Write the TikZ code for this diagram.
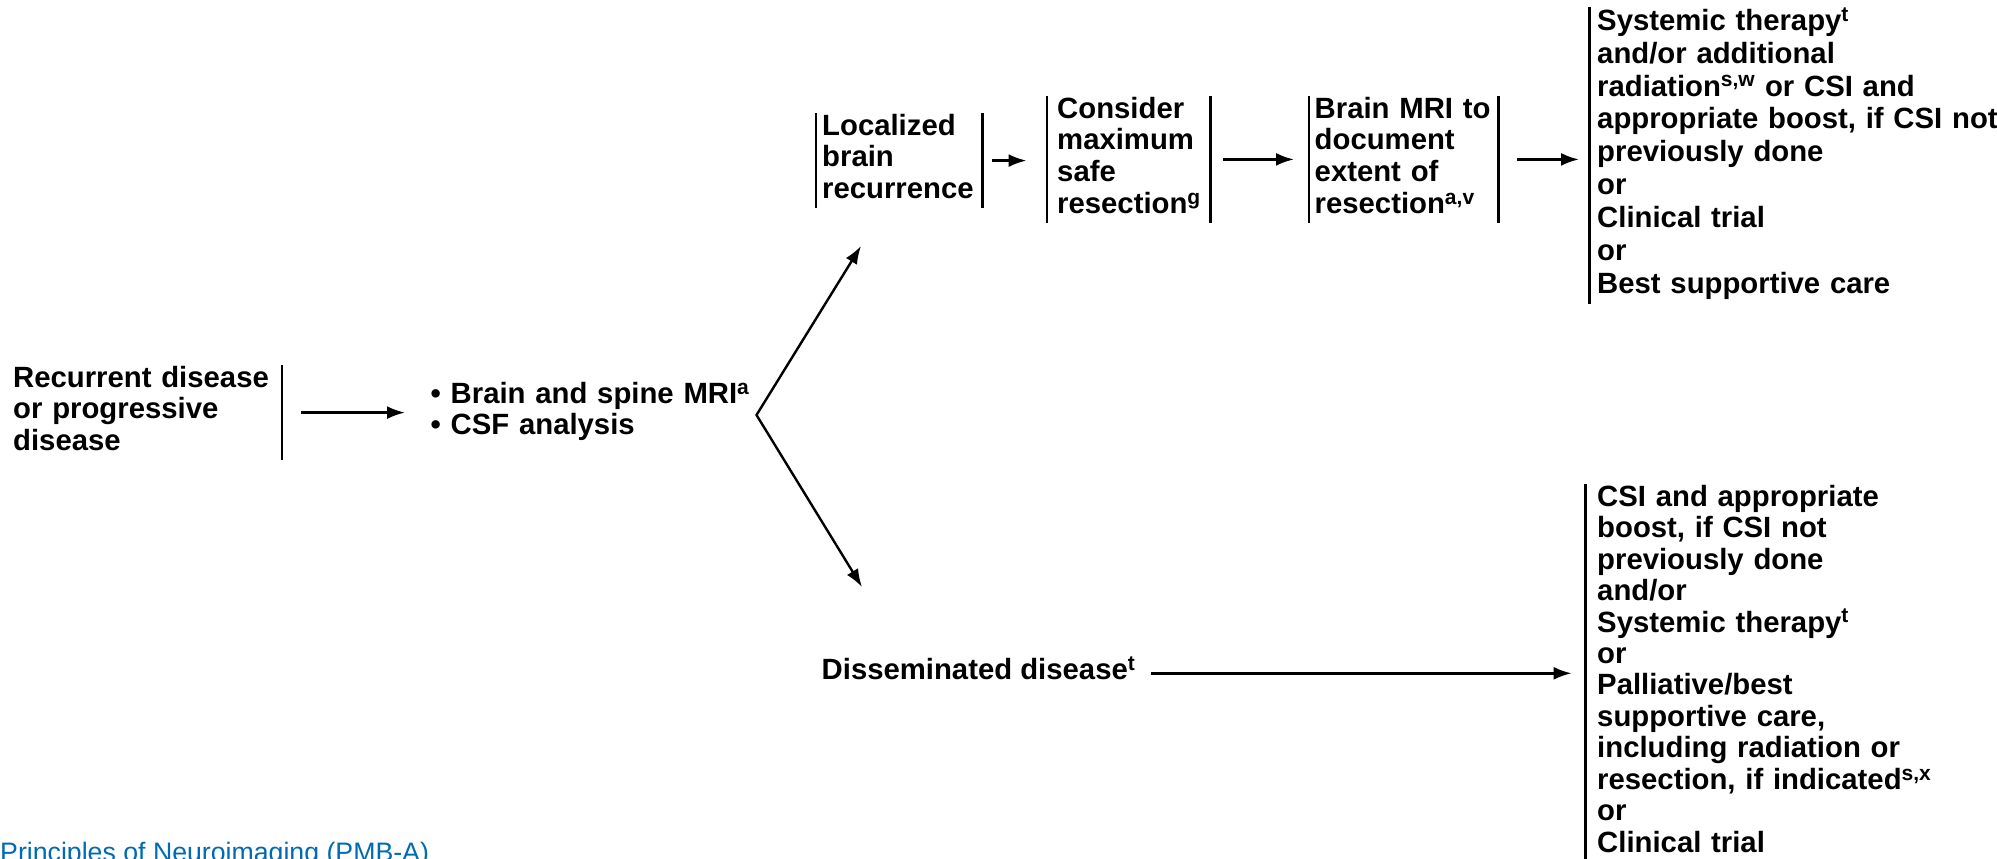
\documentclass[tikz,border=0pt]{standalone}
\usepackage{fontspec}
\setmainfont{Liberation Sans}
\usepackage{xcolor}
\usepackage{tikz}
\usetikzlibrary{arrows.meta}
\definecolor{linkblue}{RGB}{0,107,179}
\newcommand{\fnref}[1]{\textsuperscript{\fontsize{21}{21}\selectfont #1}}

\begin{document}
\begin{tikzpicture}[x=1pt,y=1pt,yscale=-1,xscale=1,
  >={Latex[length=18pt,width=13pt]},
  txt/.style={anchor=north west, inner sep=0pt, align=left,
    font=\bfseries\fontsize{29.3}{31.6}\selectfont,
    execute at begin node=\strut, execute at end node=\strut},
  bar/.style={line width=2.6pt},
  arr/.style={line width=2.4pt, ->}]
\useasboundingbox (0,0) rectangle (1997,859);

% Text Node
\node[txt, text width=268.5pt] (rec) at (13,365) {Recurrent disease\\or progressive\\disease};
\draw[bar] (rec.north east) -- (rec.south east);
% Text Node
\node[txt, text width=380pt] (mri) at (430.5,381) {\textbullet\ Brain and spine MRI\fnref{a}\\\textbullet\ CSF analysis};

% Text Node
\node[txt, inner xsep=6pt, text width=154pt] (loc) at (816,113) {Localized\\brain\\recurrence};
\draw[bar] (loc.north west) -- (loc.south west);
\draw[bar] (loc.north east) -- (loc.south east);
% Text Node
\node[txt, inner xsep=10pt, text width=143pt] (con) at (1047,96) {Consider\\maximum\\safe\\resection\fnref{g}};
\draw[bar] (con.north west) -- (con.south west);
\draw[bar] (con.north east) -- (con.south east);
% Text Node
\node[txt, inner xsep=5.5pt, text width=178pt] (bmri) at (1309,96) {Brain MRI to\\document\\extent of\\resection\fnref{a,v}};
\draw[bar] (bmri.north west) -- (bmri.south west);
\draw[bar] (bmri.north east) -- (bmri.south east);
% Text Node
\node[txt, inner xsep=7.5pt, text width=430pt, font=\bfseries\fontsize{29.3}{32.9}\selectfont] (trt) at (1589.5,7) {Systemic therapy\fnref{t}\\and/or additional\\radiation\fnref{s,w} or CSI and\\appropriate boost, if CSI not\\previously done\\or\\Clinical trial\\or\\Best supportive care};
\draw[bar] (trt.north west) -- (trt.south west);

% Text Node
\node[txt] (dis) at (821.5,657) {Disseminated disease\fnref{t}};
% Text Node
\node[txt, inner xsep=11.4pt, text width=360pt, font=\bfseries\fontsize{29.3}{31.45}\selectfont] (brt) at (1585.6,484) {CSI and appropriate\\boost, if CSI not\\previously done\\and/or\\Systemic therapy\fnref{t}\\or\\Palliative/best\\supportive care,\\including radiation or\\resection, if indicated\fnref{s,x}\\or\\Clinical trial};
\draw[bar] (brt.north west) -- (brt.south west);

%Straight Lines
\draw[arr] ([xshift=19pt]rec.east) -- ([xshift=-25.5pt]rec.east -| mri.west);
\draw[arr] ([xshift=10pt]loc.east) -- ([xshift=-20.5pt]loc.east -| con.west);
\draw[arr] ([xshift=12.6pt]con.east) -- ([xshift=-15pt]con.east -| bmri.west);
\draw[arr] ([xshift=19pt]bmri.east) -- ([xshift=-10.5pt]bmri.east -| trt.west);
\draw[arr] ([xshift=15.5pt]dis.east) -- ([xshift=-14pt]dis.east -| brt.west);

% fork after imaging
\coordinate (fork) at (756.5,415);
\coordinate (uptip) at (861,246);
\coordinate (dntip) at (862,587);
\draw[line width=2.4pt, <->] (uptip) -- (fork) -- (dntip);

% Text Node
\node[anchor=base west, inner sep=0pt, text=linkblue, font=\fontsize{26.7}{30}\selectfont] (link) at (0,861) {Principles of Neuroimaging (PMB-A)};
\end{tikzpicture}
\end{document}
